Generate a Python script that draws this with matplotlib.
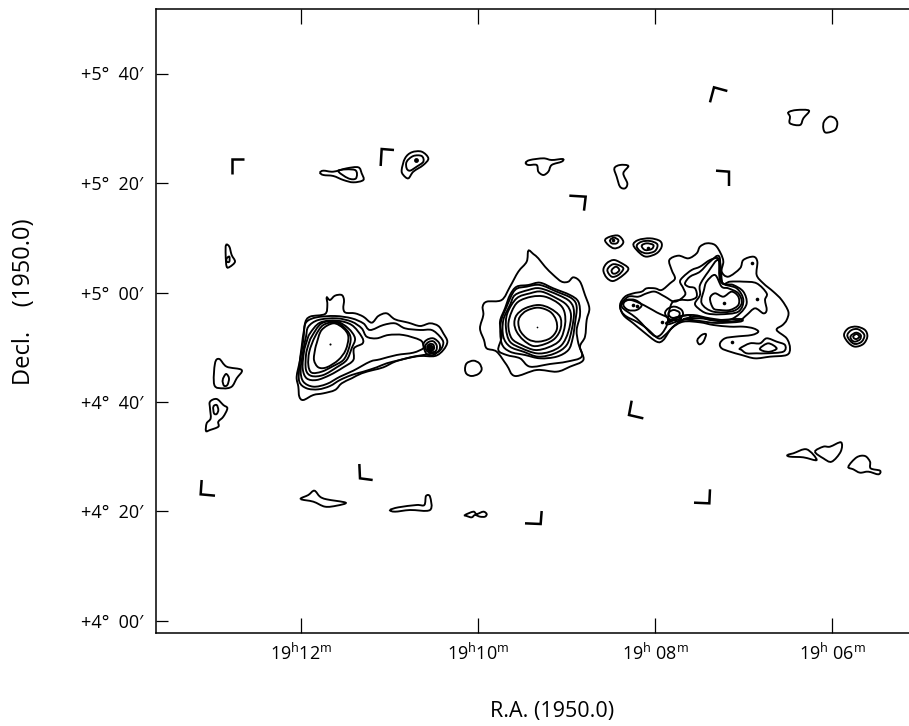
import numpy as np
import matplotlib
matplotlib.use('Agg')
import matplotlib.pyplot as plt
from matplotlib.path import Path
from matplotlib.patches import PathPatch

plt.rcParams['font.family'] = ['Open Sans', 'DejaVu Sans']
plt.rcParams['mathtext.fontset'] = 'custom'
plt.rcParams['mathtext.rm'] = 'Open Sans'
plt.rcParams['mathtext.default'] = 'rm'

# Axis ticks
ra_ticks = [12, 10, 8, 6]
ra_labels = [r'19$^{\mathrm{h}}$12$^{\mathrm{m}}$', r'19$^{\mathrm{h}}$10$^{\mathrm{m}}$',
             r'19$^{\mathrm{h}}$ 08$^{\mathrm{m}}$', r'19$^{\mathrm{h}}$ 06$^{\mathrm{m}}$']
dec_ticks = [240, 260, 280, 300, 320, 340]
dec_labels = ["+4°  00′", "+4°  20′", "+4°  40′", "+5°  00′", "+5°  20′", "+5°  40′"]

# Contours, in 1/3 pixel units relative to each region's corner
west_origin = (280, 280)
west_contours = [
    [(140,52),(150,60),(165,47),(185,45),(192,60),(190,85),(197,98),(225,100),(250,110),(275,128),(295,108),(320,100),(345,118),(385,128),(420,138),(450,130),(475,138),(490,160),(502,185),(490,210),(465,228),(420,228),(380,235),(345,245),(310,262),(280,270),(245,280),(215,295),(185,310),(165,330),(130,340),(100,345),(70,360),(58,350),(55,320),(50,290),(60,240),(70,180),(75,130),(90,110),(135,102),(142,75)],
    [(80,125),(110,112),(165,108),(215,115),(250,130),(270,150),(310,135),(345,130),(375,145),(420,150),(455,150),(480,170),(490,190),(475,215),(430,225),(400,230),(360,240),(320,250),(290,262),(250,275),(215,285),(180,300),(150,318),(115,328),(80,325),(58,305),(58,260),(65,200),(72,150)],
    [(85,140),(115,120),(170,115),(215,125),(245,145),(260,170),(290,175),(325,165),(370,165),(420,180),(430,195),(430,205),(400,218),(350,225),(300,238),(270,245),(220,272),(180,290),(140,312),(100,320),(70,305),(62,270),(70,210),(78,170)],
    [(90,160),(120,128),(170,122),(215,135),(245,170),(248,190),(222,205),(220,240),(190,262),(150,285),(110,300),(80,295),(68,265),(72,215),(80,185)],
    [(95,170),(125,130),(170,125),(205,145),(225,175),(215,205),(200,240),(170,262),(130,285),(95,288),(78,270),(78,225),(85,195)],
    [(105,170),(130,135),(170,128),(200,150),(212,175),(205,210),(190,240),(160,258),(125,275),(95,278),(85,255),(88,215)],
    [(110,190),(125,150),(160,130),(190,145),(205,170),(197,210),(175,240),(140,262),(115,262),(102,240),(105,210)],
    [(430,195),(440,180),(460,175),(478,190),(478,210),(460,225),(440,222)],
    [(436,197),(446,186),(460,184),(470,196),(468,212),(452,218),(440,212)],
    [(442,198),(450,192),(460,194),(462,206),(452,212),(444,208)],
]
west_dots = [(150,193)]
west_knots = [(450,205)]

central_origin = (470, 240)
central_contours = [
    [(175,32),(190,42),(205,55),(225,80),(250,105),(275,125),(295,125),(310,112),(330,125),(345,165),(358,205),(350,240),(345,290),(330,320),(340,360),(300,380),(260,395),(200,390),(135,408),(110,375),(80,335),(50,325),(42,300),(30,265),(40,225),(38,200),(50,185),(95,180),(120,140),(145,95),(170,65)],
    [(140,140),(175,135),(210,128),(250,145),(300,165),(325,185),(330,225),(320,270),(325,310),(335,350),(290,365),(240,372),(180,380),(150,355),(110,345),(85,330),(95,290),(90,245),(105,205),(120,165)],
    [(135,150),(170,140),(210,135),(260,155),(305,175),(320,200),(315,250),(308,295),(295,330),(260,350),(210,355),(165,345),(120,335),(95,310),(92,250),(110,200)],
    [(135,165),(175,150),(210,145),(265,165),(300,185),(312,215),(305,270),(290,315),(255,340),(205,350),(160,335),(120,320),(100,290),(100,240),(120,195)],
    [(140,175),(180,160),(215,155),(260,175),(290,195),(303,225),(295,275),(275,315),(240,335),(200,340),(155,325),(120,305),(108,265),(112,220)],
    [(145,185),(185,170),(225,170),(265,190),(283,215),(285,255),(270,300),(235,322),(195,330),(155,315),(125,295),(115,255),(125,215)],
    [(140,225),(165,205),(205,195),(240,205),(270,230),(272,265),(255,295),(225,312),(190,318),(160,300),(140,275),(133,250)],
    [(150,230),(170,212),(205,203),(240,215),(258,240),(260,270),(240,295),(205,305),(175,298),(152,275),(145,250)],
]
central_dots = [(200,260)]

east_origin = (600, 225)
east_contours = [
    [(60,240),(75,215),(100,205),(125,200),(140,190),(165,190),(185,195),(210,175),(225,160),(215,135),(208,105),(235,92),(265,100),(290,85),(300,65),(320,55),(345,60),(362,85),(370,110),(365,140),(385,155),(420,130),(430,105),(460,95),(472,110),(470,150),(490,175),(520,200),(545,225),(565,260),(560,285),(548,300),(530,315),(560,340),(570,370),(560,390),(510,395),(465,400),(425,390),(390,380),(365,370),(360,355),(375,340),(405,335),(455,330),(475,320),(460,310),(430,305),(390,305),(340,300),(300,292),(250,290),(215,310),(190,345),(170,350),(130,320),(100,295),(70,270)],
    [(62,240),(85,215),(115,215),(140,205),(165,200),(195,215),(225,230),(255,210),(250,190),(240,170),(250,155),(275,135),(300,125),(330,105),(355,100),(362,125),(368,175),(390,170),(430,170),(470,175),(500,205),(495,225),(500,255),(490,265),(465,250),(440,270),(420,285),(380,290),(330,285),(295,275),(260,280),(225,300),(195,330),(175,340),(140,310),(110,290),(80,275),(65,260)],
    [(215,235),(240,225),(270,225),(290,215),(285,190),(265,185),(255,175),(270,155),(300,140),(330,110),(358,95),(365,170),(400,180),(430,200),(440,235),(420,265),(385,285),(330,280),(280,270),(240,275),(205,290)],
    [(300,210),(300,180),(325,140),(355,105),(362,170),(410,190),(430,225),(415,260),(360,268),(320,265),(295,250),(285,235)],
    [(312,195),(320,170),(345,150),(365,185),(385,190),(415,205),(425,235),(400,258),(340,260),(305,235)],
    [(330,220),(345,205),(370,215),(395,200),(415,215),(415,240),(390,255),(360,255),(340,250)],
    [(70,240),(80,225),(105,225),(125,240),(110,255),(85,255)],
    [(65,245),(85,225),(120,235),(170,262),(205,285),(170,335),(110,280)],
    [(195,265),(205,250),(225,245),(245,255),(248,272),(230,285),(208,282)],
    [(205,265),(220,255),(238,262),(235,275),(215,278)],
    [(250,282),(300,280),(350,285),(420,282),(420,290),(350,294),(300,288)],
    [(200,292),(235,275),(270,270),(265,280),(235,288),(205,298)],
    [(292,345),(305,330),(318,328),(310,350),(298,358)],
    [(420,370),(450,355),(480,355),(500,340),(530,350),(555,360),(550,380),(500,385),(470,385),(440,385),(425,375)],
    [(480,370),(505,355),(530,370),(510,380),(490,378)],
    # compact sources north of the complex
    [(15,45),(30,35),(55,32),(70,50),(60,65),(42,70),(25,60)],
    [(30,45),(42,38),(55,45),(50,55),(35,55)],
    [(100,60),(115,45),(150,40),(180,48),(185,65),(170,85),(140,95),(120,85)],
    [(110,62),(125,50),(150,48),(172,58),(165,78),(140,85),(120,78)],
    [(125,62),(140,55),(160,60),(155,72),(135,75)],
    [(10,135),(20,115),(40,105),(60,112),(85,130),(70,150),(40,168),(20,158)],
    [(22,135),(38,118),(60,122),(70,132),(55,150),(35,155)],
    [(35,135),(48,125),(58,135),(48,145),(38,145)],
]
east_dots = [(372,235),(470,222),(455,115),(185,292),(395,350),(100,240),(110,242),(145,68),(40,45),(225,282),(240,280)]

north_origin = (190, 130)
north_contours = [
    [(390,128),(400,122),(430,125),(470,115),(505,112),(515,130),(520,150),(490,157),(460,150),(430,138),(400,135)],
    [(445,122),(495,120),(498,145),(475,145)],
    [(645,85),(665,67),(695,65),(715,85),(700,105),(670,125),(655,145),(640,135),(635,120)],
    [(650,95),(670,78),(695,78),(700,95),(680,110),(660,122),(650,115)],
    [(108,345),(118,350),(125,375),(135,395),(120,410),(110,410),(107,375)],
    [(110,385),(118,380),(118,395),(110,395)],
]
north_dots = [(677,90)]
north_corners = [
    [(125,132),(125,88),(163,88)],
    [(572,108),(575,57),(612,60)],
]

northeast_origin = (510, 80)
northeast_contours = [
    [(47,248),(60,240),(100,235),(125,240),(158,237),(155,245),(125,255),(115,275),(100,285),(85,275),(80,255),(55,255)],
    [(313,265),(330,255),(355,258),(340,280),(352,310),(345,325),(330,320),(320,290)],
    [(835,97),(860,90),(897,92),(880,115),(870,135),(840,130),(840,110)],
    [(942,125),(958,110),(975,115),(982,130),(975,150),(948,158),(940,145)],
]
northeast_corners = [
    [(600,67),(612,22),(652,33)],
    [(618,272),(657,275),(657,318)],
    [(178,347),(227,350),(222,392)],
]

south_origin = (190, 350)
south_contours = [
    [(75,40),(88,27),(110,50),(155,60),(140,85),(125,110),(100,115),(73,105)],
    [(98,90),(108,72),(117,85),(112,105),(102,107)],
    [(60,155),(80,147),(100,165),(112,175),(100,200),(85,215),(85,230),(60,240),(48,243),(50,220),(62,205),(60,175)],
    [(70,170),(80,165),(85,180),(80,192),(72,190)],
    [(332,447),(355,435),(373,422),(390,440),(410,448),(467,458),(440,467),(405,470),(370,455)],
    [(600,480),(625,472),(680,465),(703,465),(708,438),(720,440),(720,480),(660,480),(615,485)],
    [(825,495),(850,485),(860,492),(880,485),(890,492),(885,500),(870,500),(855,495),(845,502),(830,498)],
    [(825,58),(830,40),(850,32),(868,40),(875,58),(865,72),(845,78),(830,72)],
]
south_corners = [
    [(35,390),(32,433),(75,437)],
    [(508,342),(510,385),(548,390)],
    [(1005,520),(1052,522),(1055,483)],
]

southeast_origin = (620, 320)
southeast_contours = [
    [(502,405),(520,400),(560,388),(590,420),(550,412),(510,410)],
    [(585,395),(610,380),(630,380),(663,367),(662,395),(635,425),(610,415)],
    [(685,440),(710,412),(735,408),(750,425),(752,445),(780,452),(775,463),(745,455),(720,458),(700,448)],
    [(672,45),(685,25),(710,20),(735,30),(742,50),(730,72),(705,80),(685,68)],
    [(682,45),(695,30),(715,28),(733,45),(725,65),(705,72),(690,62)],
    [(692,48),(708,38),(722,45),(720,58),(705,65),(695,60)],
    [(700,48),(710,42),(718,50),(710,57),(702,55)],
]
southeast_corners = [
    [(35,242),(27,285),(70,295)],
    [(222,548),(268,550),(270,508)],
]


# plate pixels -> R.A. minutes past 19h, Dec. arcmin
def ra_min(x):
    return 12 - (np.asarray(x, float) - 301) / 88.55


def dec_arcmin(y):
    return 340 - (np.asarray(y, float) - 73.5) / 5.475


def to_sky(points, origin):
    pts = np.array(points, float)
    return np.column_stack((ra_min(origin[0] + pts[:, 0] / 3), dec_arcmin(origin[1] + pts[:, 1] / 3)))


# closed bezier outline that goes through every read point
def contour_path(pts):
    prv = np.roll(pts, 1, axis=0)
    nxt = np.roll(pts, -1, axis=0)
    nxt2 = np.roll(pts, -2, axis=0)
    verts = [pts[0]]
    for p0, p1, p2, p3 in zip(prv, pts, nxt, nxt2):
        verts += [p1 + (p2 - p0) / 6, p2 - (p3 - p1) / 6, p2]
    codes = [Path.MOVETO] + [Path.CURVE4] * (3 * len(pts))
    return Path(verts, codes)


fig = plt.figure(figsize=(9.09, 7.26), dpi=100)
ax = fig.add_axes([156 / 909, 1 - 632.5 / 726, 753 / 909, 623.5 / 726])

for contours, origin in [(west_contours, west_origin), (central_contours, central_origin),
                         (east_contours, east_origin), (north_contours, north_origin),
                         (northeast_contours, northeast_origin), (south_contours, south_origin),
                         (southeast_contours, southeast_origin)]:
    for c in contours:
        ax.add_patch(PathPatch(contour_path(to_sky(c, origin)), fc='none', ec='black', lw=1.35))

for corners, origin in [(north_corners, north_origin), (northeast_corners, northeast_origin),
                        (south_corners, south_origin), (southeast_corners, southeast_origin)]:
    for c in corners:
        s = to_sky(c, origin)
        ax.plot(s[:, 0], s[:, 1], color='black', lw=1.8, solid_joinstyle='miter', solid_capstyle='butt')

for dots, origin, size in [(west_dots, west_origin, 1.5), (west_knots, west_origin, 5.5),
                           (central_dots, central_origin, 1.2), (east_dots, east_origin, 2.6),
                           (north_dots, north_origin, 3.5)]:
    s = to_sky(dots, origin)
    ax.plot(s[:, 0], s[:, 1], 'o', color='black', ms=size, mew=0)

ax.set_xlim(ra_min(156), ra_min(909))
ax.set_ylim(dec_arcmin(632.5), dec_arcmin(9))
ax.spines['right'].set_visible(False)
for side in ['left', 'top', 'bottom']:
    ax.spines[side].set_linewidth(1.1)

ax.set_xticks(ra_ticks)
ax.set_xticklabels(ra_labels, fontsize=13)
ax.set_yticks(dec_ticks)
ax.set_yticklabels(dec_labels, fontsize=13)
ax.tick_params(axis='x', direction='in', top=True, length=10.5, width=0.9, pad=7)
ax.tick_params(axis='y', direction='in', length=8.5, width=0.9, pad=9)

ax.set_xlabel('R.A. (1950.0)', fontsize=15.5)
ax.xaxis.set_label_coords((552 - 156) / 753, -(711 - 632.5) / 623.5, transform=ax.transAxes)
ax.xaxis.label.set_va('center')
ax.set_ylabel('Decl.    (1950.0)', fontsize=17)
ax.yaxis.set_label_coords((24 - 156) / 753, (632.5 - 302) / 623.5, transform=ax.transAxes)
ax.yaxis.label.set_va('center')

fig.savefig('out.png', dpi=100)
